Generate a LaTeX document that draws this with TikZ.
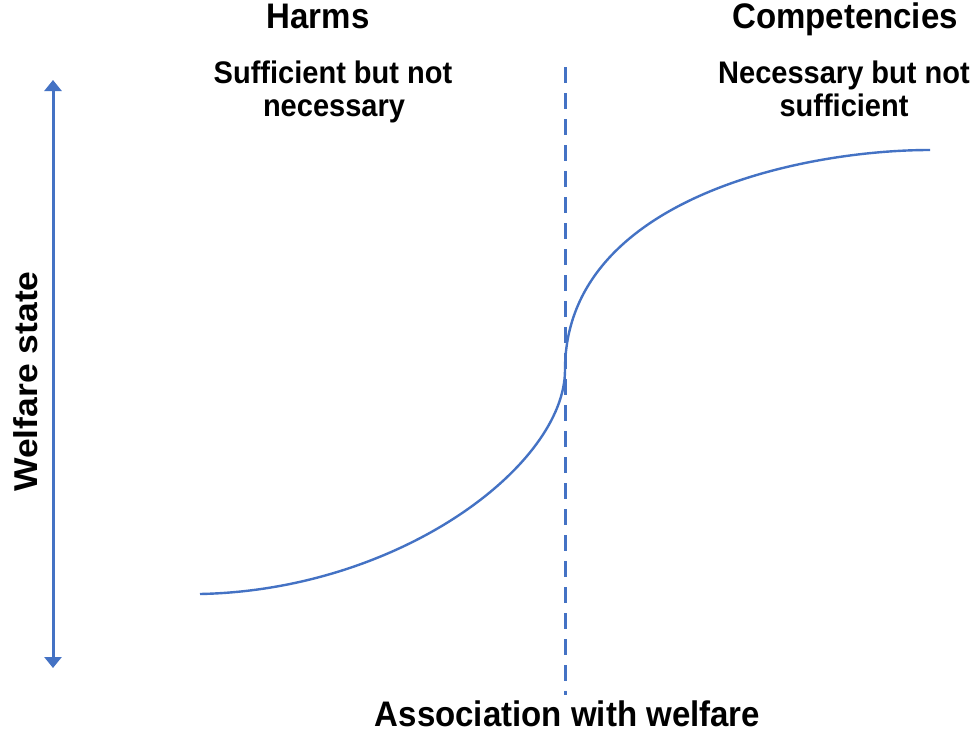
\documentclass[tikz,border=0pt]{standalone}
\usepackage{fontspec}
\setmainfont{Liberation Sans}
\usetikzlibrary{arrows.meta}
\definecolor{curveblue}{HTML}{4472C4}
\newcommand{\sqtext}[1]{\scalebox{0.93}[1]{#1}}
\begin{document}
\begin{tikzpicture}[x=1pt,y=1pt,
  title/.style={anchor=base,inner sep=0pt,font=\fontsize{35.5}{36}\selectfont\bfseries},
  subtitle/.style={anchor=base,inner sep=0pt,font=\fontsize{31.2}{32}\selectfont\bfseries},
  axisarrow/.style={draw=curveblue,line width=3pt,{Triangle[length=11pt,width=17pt]}-{Triangle[length=11pt,width=17pt]}},
  divider/.style={draw=curveblue,line width=3pt,dash pattern=on 16pt off 10pt},
  welfarecurve/.style={draw=curveblue,line width=2.4pt}]
\useasboundingbox (0,0) rectangle (977,-739);
\fill[white] (0,0) rectangle (977,-739);

\node[title] (harms) at (318,-28.3) {\sqtext{Harms}};
\node[title] (comp) at (845,-28.3) {\sqtext{Competencies}};
\node[subtitle] (suf1) at (333,-83.5) {\sqtext{Sufficient but not}};
\node[subtitle] (suf2) at (334,-116.5) {\sqtext{necessary}};
\node[subtitle] (nec1) at (844,-83.5) {\sqtext{Necessary but not}};
\node[subtitle] (nec2) at (844,-116.5) {\sqtext{sufficient}};
\node[title] (xlab) at (567.5,-726.7) {\sqtext{Association with welfare}};
\node[title,rotate=90] (ylab) at (37,-381.5) {\scalebox{1}[0.93]{Welfare state}};

\coordinate (atop) at (53,-80);
\coordinate (abot) at (53,-668);
\draw[axisarrow] (atop) -- (abot);

\coordinate (dtop) at (565,-67);
\coordinate (dbot) at (565,-695);
\draw[divider] (dtop) -- (dbot);

\coordinate (cstart) at (200,-594);
\coordinate (cmid) at (565,-370);
\coordinate (cend) at (930,-150);
\draw[welfarecurve] (cstart) .. controls (400,-590) and (565,-465) .. (cmid)
  .. controls (565,-200) and (800,-150) .. (cend);
\end{tikzpicture}
\end{document}
